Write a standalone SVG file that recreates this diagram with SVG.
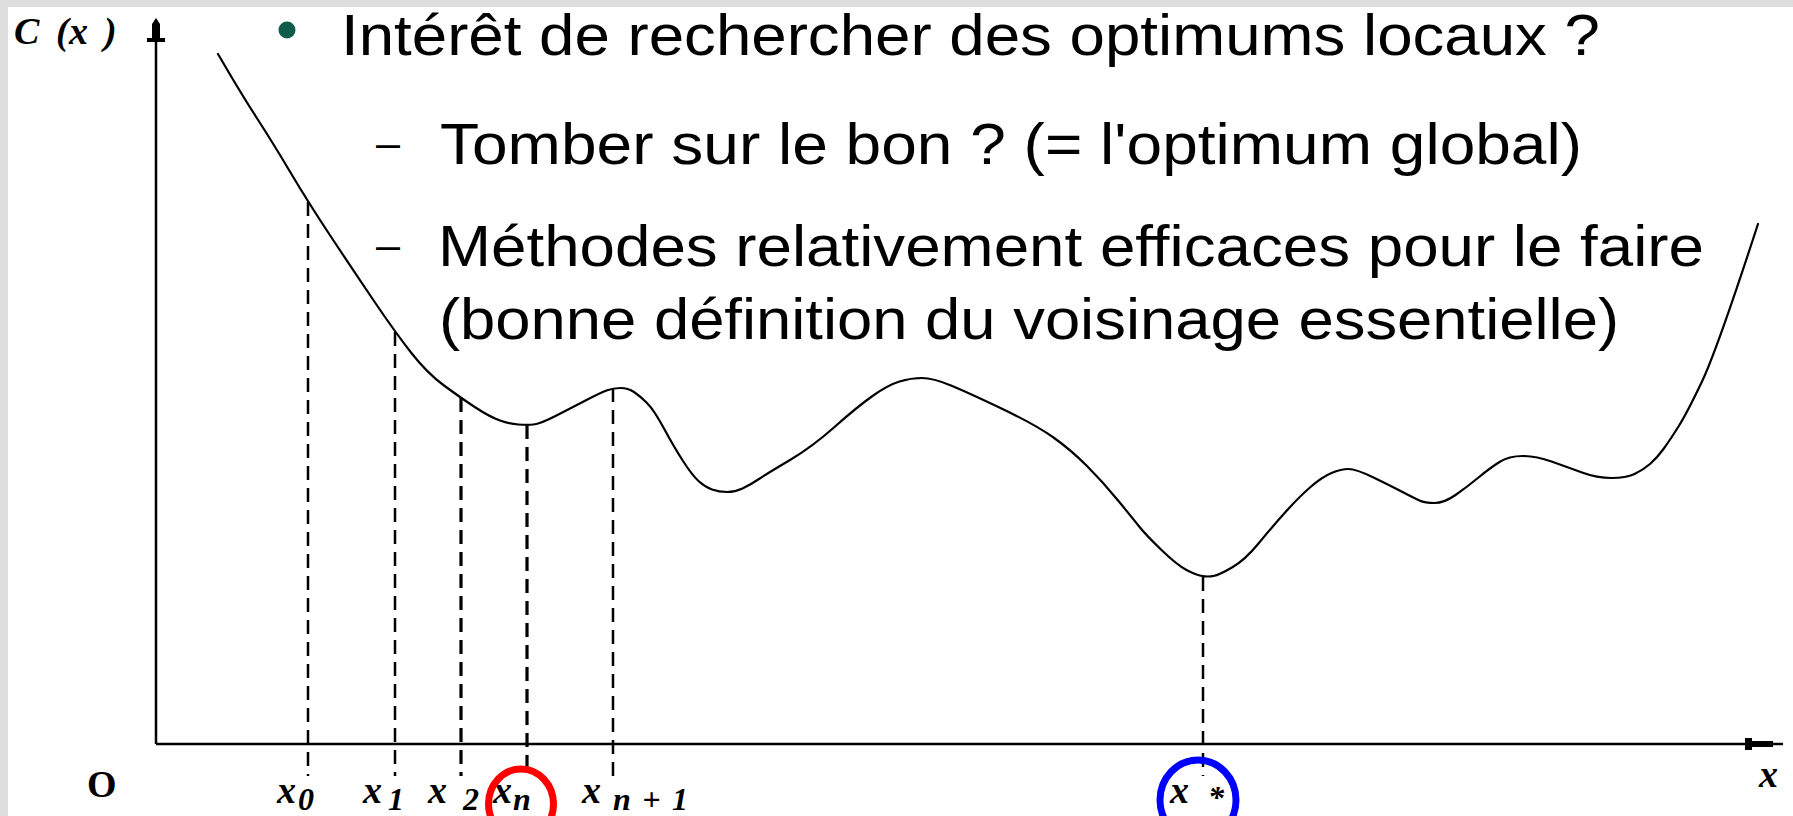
<svg xmlns="http://www.w3.org/2000/svg" width="1793" height="816" viewBox="0 0 1793 816">
<style>
.main{font-family:"Liberation Sans",Arial,sans-serif;font-size:58px;fill:#000}
.dash{font-family:"Liberation Sans",Arial,sans-serif;font-size:40px;fill:#000}
.lbl{font-family:"Liberation Serif","Times New Roman",serif;font-style:italic;font-weight:bold;font-size:38px;fill:#000}
.sub{font-family:"Liberation Serif","Times New Roman",serif;font-style:italic;font-weight:bold;font-size:32px;fill:#000}
.axis{stroke:#000;stroke-width:2.5;fill:none}
.guide{stroke:#000;stroke-width:2.5;stroke-dasharray:14 8;fill:none}
.curve{stroke:#000;stroke-width:2.2;fill:none;stroke-linejoin:round;stroke-linecap:round}
.ring{fill:none;stroke-width:7}
</style>
<rect width="1793" height="816" fill="#dddddd"/>
<rect x="8" y="7" width="1785" height="809" fill="#ffffff"/>

<g id="text-block">
<circle cx="287" cy="30" r="8.5" fill="#0e5c4c"/>
<text class="main" x="341" y="55" textLength="1259" lengthAdjust="spacingAndGlyphs">Intérêt de rechercher des optimums locaux ?</text>
<text class="dash" x="376" y="157" textLength="24" lengthAdjust="spacingAndGlyphs">–</text>
<text class="main" x="440" y="164" textLength="1142" lengthAdjust="spacingAndGlyphs">Tomber sur le bon ? (= l'optimum global)</text>
<text class="dash" x="376" y="259" textLength="24" lengthAdjust="spacingAndGlyphs">–</text>
<text class="main" x="438" y="266" textLength="1266" lengthAdjust="spacingAndGlyphs">Méthodes relativement efficaces pour le faire</text>
<text class="main" x="439" y="339" textLength="1180" lengthAdjust="spacingAndGlyphs">(bonne définition du voisinage essentielle)</text>
</g>

<g id="axes">
<path class="axis" d="M156,744 L1783,744 M156,744 L156,20"/>
<path d="M1745,738 L1752,738 L1752,741 L1773,741 L1773,747 L1752,747 L1752,750 L1745,750 Z" fill="#000"/>
<path d="M156,18 L160,24 L160,38 L165,38 L165,42 L147,42 L147,38 L152,38 L152,24 Z" fill="#000"/>
<text class="lbl" x="14 56 69 104" y="44" style="font-size:38px">C(x)</text>
<text x="87" y="797" style="font-family:'Liberation Serif','Times New Roman',serif;font-weight:bold;font-size:38px">O</text>
<text class="lbl" x="1759" y="787">x</text>
</g>

<g id="curve">
<path class="curve" d="M218,54 Q240,92 256.5,117.5 Q273,143 290.5,172.5 Q308,202 330.5,236 Q353,270 374,301 Q395,332 411,352.5 Q427,373 444,385.5 Q461,398 475.5,407.5 Q490,417 500,420.5 Q510,424 518.5,424.5 Q527,425 533.5,424.5 Q540,424 556.5,415.5 Q573,407 586.5,400 Q600,393 606.5,390.5 Q613,388 620.5,388 Q628,388 634,392 Q640,396 647,403 Q654,410 664,428.5 Q674,447 683,461 Q692,475 698.5,481 Q705,487 712,489.5 Q719,492 727,492 Q735,492 742.5,488.5 Q750,485 759,479 Q768,473 790,460 Q812,447 834.5,427 Q857,407 872.5,396 Q888,385 899.5,381.5 Q911,378 922,378 Q933,378 951,385.5 Q969,393 1002.5,409 Q1036,425 1053.5,437.5 Q1071,450 1087,466 Q1103,482 1118.5,501 Q1134,520 1140,527.5 Q1146,535 1161.5,550 Q1177,565 1186.5,570 Q1196,575 1202,576 Q1208,577 1213.5,576 Q1219,575 1232,567.5 Q1245,560 1258.5,543.5 Q1272,527 1285.5,512 Q1299,497 1310.5,487 Q1322,477 1331.5,473 Q1341,469 1348.5,469 Q1356,469 1373.5,477.5 Q1391,486 1402.5,492 Q1414,498 1419.5,500.5 Q1425,503 1434.5,503 Q1444,503 1455.5,495 Q1467,487 1478.5,477.5 Q1490,468 1499.5,462 Q1509,456 1522.5,456 Q1536,456 1551.5,461.5 Q1567,467 1582,472.5 Q1597,478 1611.5,478 Q1626,478 1634.5,474 Q1643,470 1650,464 Q1657,458 1663.5,449 Q1670,440 1678.5,426.5 Q1687,413 1702,381.5 Q1717,350 1758,224"/>
</g>

<g id="connectors">
<line class="guide" x1="308" y1="202" x2="308" y2="776"/>
<line class="guide" x1="395" y1="332" x2="395" y2="776"/>
<line class="guide" x1="461" y1="398" x2="461" y2="776" style="stroke-width:3.2"/>
<line class="guide" x1="527" y1="425" x2="527" y2="768" style="stroke-width:3.2"/>
<line class="guide" x1="613" y1="388" x2="613" y2="776"/>
<line class="guide" x1="1203" y1="577" x2="1203" y2="776"/>
</g>

<g id="label-x0"><text class="lbl" x="277" y="803">x</text><text class="sub" x="298" y="810">0</text></g>
<g id="label-x1"><text class="lbl" x="363" y="803">x</text><text class="sub" x="388" y="810">1</text></g>
<g id="label-x2"><text class="lbl" x="428" y="803">x</text><text class="sub" x="463" y="810">2</text></g>
<g id="label-xn"><text class="lbl" x="493" y="803">x</text><text class="sub" x="513" y="810">n</text>
<ellipse class="ring" cx="521" cy="804" rx="32.5" ry="35" stroke="#ff0000"/></g>
<g id="label-xn1"><text class="lbl" x="582" y="803">x</text><text class="sub" x="613" y="810" textLength="75" lengthAdjust="spacing">n+1</text></g>
<g id="label-xstar"><text class="lbl" x="1170" y="803">x</text><text class="sub" x="1208" y="808">*</text>
<ellipse class="ring" cx="1198" cy="800" rx="38" ry="40" stroke="#0000ff"/></g>
</svg>
